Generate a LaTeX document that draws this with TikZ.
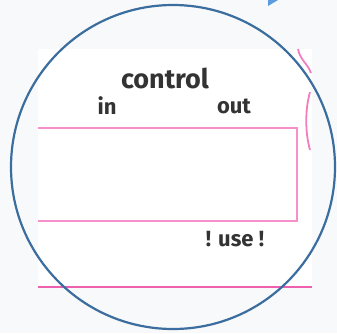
\documentclass[tikz,border=0pt]{standalone}
\usepackage{fontspec}
\setsansfont{Fira Sans}
\usetikzlibrary{positioning}
\definecolor{bggray}{HTML}{F8F9FA}
\definecolor{ringblue}{HTML}{3B6E9F}
\definecolor{tipblue}{HTML}{5B9BE0}
\definecolor{boxpink}{HTML}{F590CB}
\definecolor{linepink}{HTML}{EE5FAE}
\definecolor{txtgray}{HTML}{333333}
\tikzset{
  label/.style={text=txtgray,font=\sffamily\bfseries\fontsize{22}{22}\selectfont,inner sep=0pt},
  bigtext/.style={label,font=\sffamily\bfseries\fontsize{27}{27}\selectfont}
}

\begin{document}
\begin{tikzpicture}[x=1pt,y=-1pt]
  \fill[bggray] (0,0) rectangle (337,333);
  \useasboundingbox (0,0) rectangle (337,333);
  % panel
  \fill[white] (38,49) rectangle (312,288);
  \draw[linepink,line width=2pt] (38,287) -- (312,287);
  \draw[boxpink,line width=2.4pt] (38,128) -- (297,128) -- (297,221) -- (38,221);
  % pink arcs at right edge
  \draw[linepink!80,line width=1.8pt] (298,49) .. controls (300,60) and (308,64) .. (311,73);
  \draw[linepink!80,line width=1.8pt] (310,92) .. controls (305,110) and (305,132) .. (310,150);
  % texts
  \node[bigtext] (ctrl) at (165,78) {control};
  \node[label] (in) at (107,106) {in};
  \node[label] (out) at (234,106) {out};
  \node[label] (use) at (235,239) {! use !};
  % circle
  \node[draw=ringblue,line width=2.2pt,circle,minimum size=324pt,inner sep=0pt] (ring) at (173,167) {};
  % arrow tip
  \fill[tipblue] (268,6) -- (278,0) -- (268,0) -- cycle;
\end{tikzpicture}
\end{document}
